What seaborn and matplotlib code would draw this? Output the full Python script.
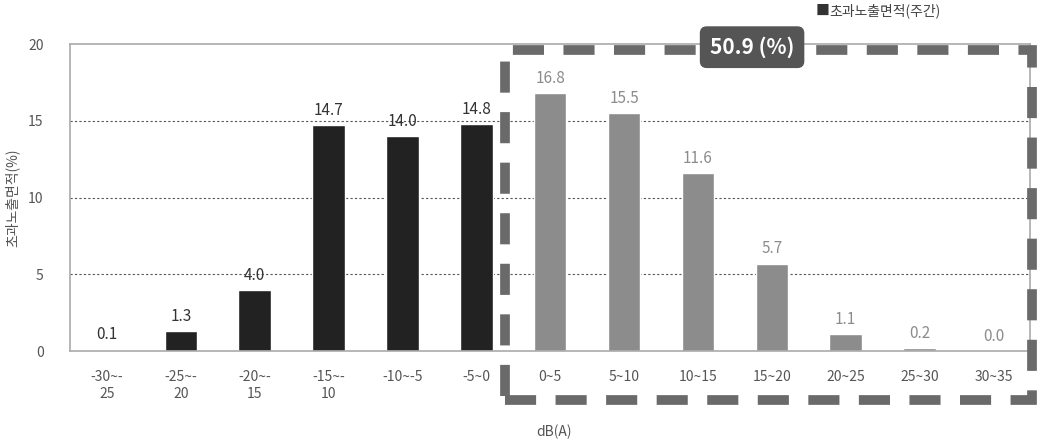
import matplotlib
matplotlib.use("Agg")
import matplotlib.pyplot as plt
import seaborn as sns
import pandas as pd
from matplotlib.patches import Rectangle

categories = ["-30~-\n25", "-25~-\n20", "-20~-\n15", "-15~-\n10", "-10~-5", "-5~0",
              "0~5", "5~10", "10~15", "15~20", "20~25", "25~30", "30~35"]
values = [0.1, 1.3, 4.0, 14.7, 14.0, 14.8, 16.8, 15.5, 11.6, 5.7, 1.1, 0.2, 0.0]
groups = ["below"] * 6 + ["over"] * 7
value_labels = ["0.1", "1.3", "4.0", "14.7", "14.0", "14.8", "16.8", "15.5", "11.6",
                "5.7", "1.1", "0.2", "0.0"]
yticks = [0, 5, 10, 15, 20]
total_label = "50.9 (%)"
legend_label = "초과노출면적(주간)"
ylabel = "초과노출면적(%)"
xlabel = "dB(A)"

sns.set_theme(style="white")
plt.rcParams['font.family'] = ['Noto Sans CJK KR', 'DejaVu Sans']

df = pd.DataFrame({"cat": categories, "val": values, "grp": groups})
palette = {"below": "#222222", "over": "#8c8c8c"}

fig = plt.figure(figsize=(10.46, 4.41), dpi=100)
ax = fig.add_axes([0.067, 0.204, 0.918, 0.696])

sns.barplot(data=df, x="cat", y="val", hue="grp", palette=palette, dodge=False,
            width=0.44, legend=False, ax=ax, saturation=1)

ax.set_ylim(0, 20)
ax.set_xlim(-0.5, len(categories) - 0.5)
ax.set_yticks(yticks)
ax.set_yticklabels([str(t) for t in yticks], color="#555555", fontsize=10)
ax.tick_params(axis="x", labelsize=10, colors="#555555", length=0, pad=14)
ax.tick_params(axis="y", length=3, colors="#777777", labelcolor="#555555", pad=16)
for lbl in ax.get_xticklabels():
    lbl.set_color("#555555")
for y in yticks[1:-1]:
    ax.axhline(y, color="#555555", linestyle=(0, (2, 2)), linewidth=0.8, zorder=0)
for s in ax.spines.values():
    s.set_color("#aaaaaa")
    s.set_linewidth(1.2)
ax.set_xlabel("")
ax.set_ylabel(ylabel, fontsize=10, color="#555555", labelpad=6)

for i, (v, t) in enumerate(zip(values, value_labels)):
    c = "#333333" if groups[i] == "below" else "#8c8c8c"
    ax.text(i, v + 0.4, t, ha="center", va="bottom", fontsize=11, color=c)

# x label
fig.text(0.53, 0.005, xlabel, fontsize=10, color="#555555", ha="center", va="bottom")

# dashed box
rect = Rectangle((0.453, -0.16), 0.549, 1.14, transform=ax.transAxes, fill=False,
                 edgecolor="#6a6a6a", linewidth=7, linestyle=(0, (3.2, 2.0)),
                 clip_on=False, zorder=5)
ax.add_patch(rect)

# total label box
fig.text(0.719, 0.893, total_label, fontsize=15, color="white", fontweight="bold",
         ha="center", va="center", zorder=10,
         bbox=dict(boxstyle="round,pad=0.45,rounding_size=0.3", facecolor="#555555",
                   edgecolor="#555555"))

# legend
fig.text(0.780, 0.975, "■", fontsize=10, color="#333333", ha="left", va="center")
fig.text(0.793, 0.975, legend_label, fontsize=10, color="#444444", ha="left", va="center")

fig.savefig("out.png", dpi=100)
